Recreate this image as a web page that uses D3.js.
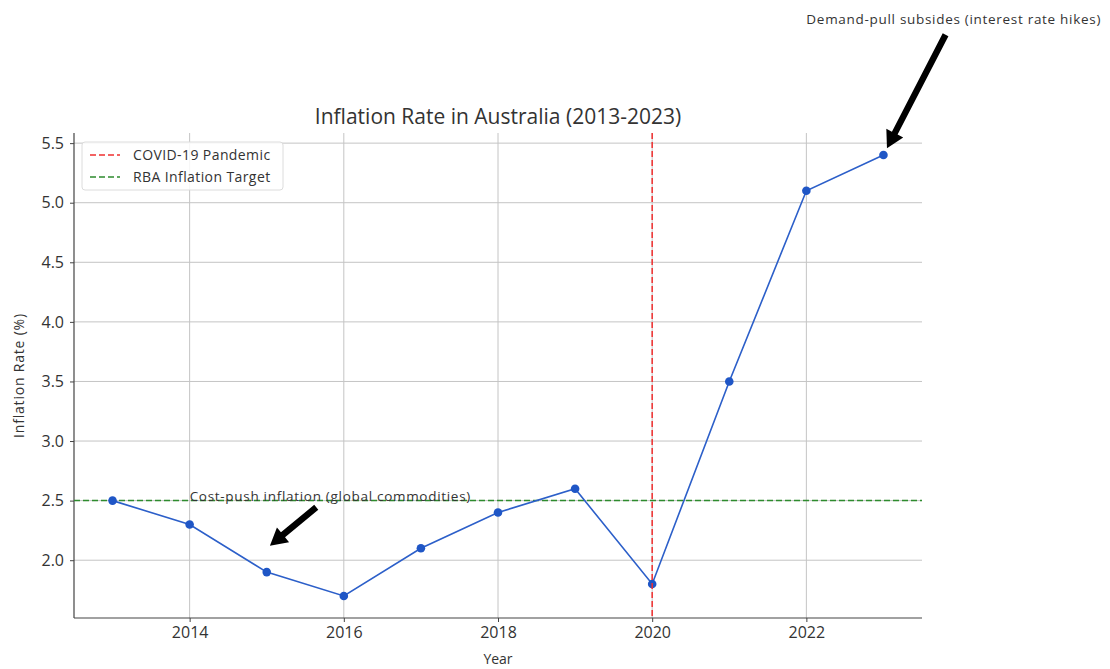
<!doctype html>
<html>
<head>
<meta charset="utf-8"/>
<title>Inflation Rate in Australia (2013-2023)</title>
<script src="https://d3js.org/d3.v7.min.js"></script>
<style>
  body { margin: 0; background: #fff; }
  svg text { font-family: "Open Sans", "DejaVu Sans", sans-serif; fill: #333; }
</style>
</head>
<body>
<div id="chart"></div>
<script>
    // data
    var years = [2013, 2014, 2015, 2016, 2017, 2018, 2019, 2020, 2021, 2022, 2023];
    var rates = [2.5, 2.3, 1.9, 1.7, 2.1, 2.4, 2.6, 1.8, 3.5, 5.1, 5.4];
    var xTicks = [2014, 2016, 2018, 2020, 2022];
    var yTicks = [2.0, 2.5, 3.0, 3.5, 4.0, 4.5, 5.0, 5.5];
    var covidYear = 2020;
    var targetRate = 2.5;
    var legendLabels = ["COVID-19 Pandemic", "RBA Inflation Target"];
    var noteTexts = ["Cost-push inflation (global commodities)", "Demand-pull subsides (interest rate hikes)"];
    var notePoints = [[2015, 2.1], [2023, 5.4]];
    var noteTextPos = [[2014, 2.5], [2022, 6.5]];

    var width = 1110, height = 669;
    var plotL = 74, plotR = 922, plotT = 133, plotB = 618;

    var svg = d3.select("#chart")
        .append("svg")
        .attr("width", width)
        .attr("height", height);

    var yMin = d3.min(rates), yMax = d3.max(rates);
    var yPad = (yMax - yMin) * 0.05;
    var x = d3.scaleLinear().domain([2012.5, 2023.5]).range([plotL, plotR]);
    var y = d3.scaleLinear().domain([yMin - yPad, yMax + yPad]).range([plotB, plotT]);

    // grid
    svg.append("g").selectAll("line").data(xTicks).enter().append("line")
        .attr("x1", d => x(d)).attr("x2", d => x(d))
        .attr("y1", plotT).attr("y2", plotB)
        .attr("stroke", "#c4c4c4").attr("stroke-width", 1);
    svg.append("g").selectAll("line").data(yTicks).enter().append("line")
        .attr("x1", plotL).attr("x2", plotR)
        .attr("y1", d => y(d)).attr("y2", d => y(d))
        .attr("stroke", "#c4c4c4").attr("stroke-width", 1);

    // axes
    var xAxis = svg.append("g")
        .attr("transform", "translate(0," + plotB + ")")
        .call(d3.axisBottom(x).tickValues(xTicks).tickFormat(d3.format("d")).tickSize(4).tickPadding(5));
    var yAxis = svg.append("g")
        .attr("transform", "translate(" + plotL + ",0)")
        .call(d3.axisLeft(y).tickValues(yTicks).tickFormat(d3.format(".1f")).tickSize(4).tickPadding(6));
    [xAxis, yAxis].forEach(function (a) {
        a.select(".domain").attr("stroke", "#444").attr("stroke-width", 1.2);
        a.selectAll(".tick line").attr("stroke", "#444");
        a.selectAll(".tick text").attr("font-size", 16).style("fill", "#333")
            .attr("font-family", "Open Sans, sans-serif");
    });
    xAxis.select(".domain").attr("d", "M" + plotL + ",0H" + plotR);
    yAxis.select(".domain").attr("d", "M0," + plotB + "V" + plotT);

    // target line
    svg.append("line")
        .attr("x1", plotL).attr("x2", plotR)
        .attr("y1", y(targetRate)).attr("y2", y(targetRate))
        .attr("stroke", "#2e8b2e").attr("stroke-width", 1.5)
        .attr("stroke-dasharray", "6,3");

    // data line
    var line = d3.line().x((d, i) => x(years[i])).y(d => y(d));
    svg.append("path")
        .attr("d", line(rates))
        .attr("fill", "none")
        .attr("stroke", "#2c5fc9")
        .attr("stroke-width", 1.6);
    svg.append("g").selectAll("circle").data(rates).enter().append("circle")
        .attr("cx", (d, i) => x(years[i]))
        .attr("cy", d => y(d))
        .attr("r", 4.3)
        .attr("fill", "#1f56c6");

    // covid line
    svg.append("line")
        .attr("x1", x(covidYear)).attr("x2", x(covidYear))
        .attr("y1", plotT).attr("y2", plotB)
        .attr("stroke", "#f03030").attr("stroke-width", 1.5)
        .attr("stroke-dasharray", "6,3");

    // title and labels
    svg.append("text")
        .attr("x", (plotL + plotR) / 2).attr("y", 124)
        .attr("text-anchor", "middle")
        .attr("font-size", 21)
        .text("Inflation Rate in Australia (2013-2023)");
    svg.append("text")
        .attr("x", (plotL + plotR) / 2).attr("y", 664)
        .attr("text-anchor", "middle")
        .attr("font-size", 14)
        .text("Year");
    svg.append("text")
        .attr("transform", "translate(24," + (plotT + plotB) / 2 + ") rotate(-90)")
        .attr("text-anchor", "middle")
        .attr("font-size", 14)
        .attr("letter-spacing", 0.8)
        .text("Inflation Rate (%)");

    // legend
    var lg = svg.append("g").attr("transform", "translate(82,142)");
    lg.append("rect")
        .attr("width", 201).attr("height", 48).attr("rx", 3)
        .attr("fill", "#fff").attr("fill-opacity", 0.85)
        .attr("stroke", "#dcdcdc");
    var legendColors = ["#f03030", "#2e8b2e"];
    legendLabels.forEach(function (lab, i) {
        lg.append("line")
            .attr("x1", 8).attr("x2", 38)
            .attr("y1", 13 + i * 22).attr("y2", 13 + i * 22)
            .attr("stroke", legendColors[i]).attr("stroke-width", 1.5)
            .attr("stroke-dasharray", "6,3");
        lg.append("text")
            .attr("x", 51).attr("y", 18 + i * 22)
            .attr("font-size", 14)
            .attr("letter-spacing", 0.4)
            .text(lab);
    });

    // annotations
    noteTexts.forEach(function (t, i) {
        var tx = x(noteTextPos[i][0]), ty = y(noteTextPos[i][1]);
        var txt = svg.append("text")
            .attr("x", tx).attr("y", ty)
            .attr("font-size", 13.5)
            .attr("letter-spacing", 0.7)
            .text(t);
        var bb = txt.node().getBBox();
        var cx = bb.x + bb.width / 2, cy = bb.y + bb.height / 2;
        var px = x(notePoints[i][0]), py = y(notePoints[i][1]);
        var dx = px - cx, dy = py - cy;
        var d = Math.sqrt(dx * dx + dy * dy);
        var ux = dx / d, uy = dy / d;
        // clip start to text box edge
        var tEdge = Math.min(
            Math.abs(dx) > 0 ? (bb.width / 2) / Math.abs(dx) : Infinity,
            Math.abs(dy) > 0 ? (bb.height / 2) / Math.abs(dy) : Infinity);
        var sx = cx + dx * tEdge + ux * d * 0.05;
        var sy = cy + dy * tEdge + uy * d * 0.05;
        var ex = px - ux * d * 0.05, ey = py - uy * d * 0.05;
        var w = 3.2, hw = 9.5, hl = 17;
        var nx = -uy, ny = ux;
        var bx = ex - ux * hl, by = ey - uy * hl;
        var pts = [
            [sx + nx * w, sy + ny * w],
            [bx + nx * w, by + ny * w],
            [bx + nx * hw, by + ny * hw],
            [ex, ey],
            [bx - nx * hw, by - ny * hw],
            [bx - nx * w, by - ny * w],
            [sx - nx * w, sy - ny * w]
        ];
        svg.append("polygon")
            .attr("points", pts.map(p => p.join(",")).join(" "))
            .attr("fill", "#000");
    });
</script>
</body>
</html>
